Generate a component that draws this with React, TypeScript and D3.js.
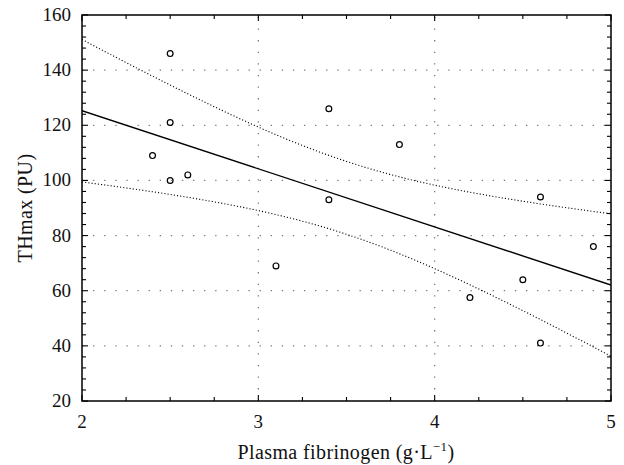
import React from "react";
import * as d3 from "d3";

const fibrinogen = [2.5, 2.5, 2.4, 2.5, 2.6, 3.4, 3.8, 3.4, 4.6, 3.1, 4.9, 4.5, 4.2, 4.6];
const thmax = [146, 121, 109, 100, 102, 126, 113, 93, 94, 69, 76, 64, 57.5, 41];
const xTicks = [2, 3, 4, 5];
const yTicks = [20, 40, 60, 80, 100, 120, 140, 160];
const xGrid = [3, 4];
const yGrid = [40, 60, 80, 100, 120, 140];
const tCrit = 2.179; // t(0.975, n-2=12)

const W = 624, H = 465;
const M = { left: 82, right: 611, top: 15, bottom: 401 };
const FONT = "'Liberation Serif', 'DejaVu Serif', serif";

export default function App() {
  const x = d3.scaleLinear().domain([2, 5]).range([M.left, M.right]);
  const y = d3.scaleLinear().domain([20, 160]).range([M.bottom, M.top]);

  const n = fibrinogen.length;
  const mx = d3.mean(fibrinogen) as number;
  const my = d3.mean(thmax) as number;
  let sxx = 0, sxy = 0;
  for (let i = 0; i < n; i++) {
    sxx += (fibrinogen[i] - mx) ** 2;
    sxy += (fibrinogen[i] - mx) * (thmax[i] - my);
  }
  const b = sxy / sxx;
  const a = my - b * mx;
  let sse = 0;
  for (let i = 0; i < n; i++) sse += (thmax[i] - (a + b * fibrinogen[i])) ** 2;
  const s = Math.sqrt(sse / (n - 2));
  const xs = d3.range(2, 5.0001, 0.02);
  const fit = (v: number) => a + b * v;
  const half = (v: number) => tCrit * s * Math.sqrt(1 / n + (v - mx) ** 2 / sxx);

  const line = d3.line<[number, number]>().x((d) => x(d[0])).y((d) => y(d[1]));
  const upper = line(xs.map((v) => [v, fit(v) + half(v)] as [number, number]));
  const lower = line(xs.map((v) => [v, fit(v) - half(v)] as [number, number]));
  const reg = line([[2, fit(2)], [5, fit(5)]]);

  const xMinor = d3.range(2, 5.0001, 0.25);
  const yMinor = d3.range(20, 160.0001, 4);
  const isMajorX = (v: number) => Math.abs(v - Math.round(v)) < 1e-6;
  const isMajorY = (v: number) => Math.abs(v / 20 - Math.round(v / 20)) < 1e-6;

  return (
    <svg width={W} height={H} style={{ position: "absolute", left: 0, top: 0, background: "#fff" }}>
      <rect x={0} y={0} width={W} height={H} fill="#fff" />
      <defs>
        <clipPath id="plot">
          <rect x={M.left} y={M.top} width={M.right - M.left} height={M.bottom - M.top} />
        </clipPath>
      </defs>
      {/* grid */}
      {xGrid.map((v) => (
        <line key={"gx" + v} x1={x(v)} x2={x(v)} y1={M.bottom} y2={M.top}
          stroke="#777" strokeWidth={1.3} strokeDasharray="1.3 10.3" />
      ))}
      {yGrid.map((v) => (
        <line key={"gy" + v} x1={M.left} x2={M.right} y1={y(v)} y2={y(v)}
          stroke="#777" strokeWidth={1.3} strokeDasharray="1.3 9.8" />
      ))}
      {/* confidence bands */}
      <g clipPath="url(#plot)">
        <path d={upper || ""} fill="none" stroke="#000" strokeWidth={1.1} strokeDasharray="1.1 2.1" />
        <path d={lower || ""} fill="none" stroke="#000" strokeWidth={1.1} strokeDasharray="1.1 2.1" />
        <path d={reg || ""} fill="none" stroke="#000" strokeWidth={1.4} />
      </g>
      {/* points */}
      {fibrinogen.map((v, i) => (
        <circle key={"p" + i} cx={x(v)} cy={y(thmax[i])} r={2.9} fill="none" stroke="#000" strokeWidth={1.2} />
      ))}
      {/* ticks */}
      {xMinor.map((v) => {
        const len = isMajorX(v) ? 6 : 4;
        return (
          <g key={"tx" + v}>
            <line x1={x(v)} x2={x(v)} y1={M.bottom} y2={M.bottom - len} stroke="#000" strokeWidth={1.1} />
            <line x1={x(v)} x2={x(v)} y1={M.top} y2={M.top + len} stroke="#000" strokeWidth={1.1} />
          </g>
        );
      })}
      {yMinor.map((v) => {
        const len = isMajorY(v) ? 6 : 4;
        return (
          <g key={"ty" + v}>
            <line x1={M.left} x2={M.left + len} y1={y(v)} y2={y(v)} stroke="#000" strokeWidth={1.1} />
            <line x1={M.right} x2={M.right - len} y1={y(v)} y2={y(v)} stroke="#000" strokeWidth={1.1} />
          </g>
        );
      })}
      {/* frame */}
      <rect x={M.left} y={M.top} width={M.right - M.left} height={M.bottom - M.top}
        fill="none" stroke="#000" strokeWidth={1.5} />
      {/* tick labels */}
      {xTicks.map((v) => (
        <text key={"lx" + v} x={x(v)} y={428} textAnchor="middle" fontFamily={FONT} fontSize={19} fill="#111">
          {v}
        </text>
      ))}
      {yTicks.map((v) => (
        <text key={"ly" + v} x={71} y={y(v) + 6} textAnchor="end" fontFamily={FONT} fontSize={19} fill="#111">
          {v}
        </text>
      ))}
      {/* axis titles */}
      <text x={346} y={459} textAnchor="middle" fontFamily={FONT} fontSize={20} letterSpacing={0.4} fill="#111">
        Plasma fibrinogen (g·L
        <tspan dy={-8} fontSize={13}>−1</tspan>
        <tspan dy={8}>)</tspan>
      </text>
      <text transform={`translate(32, ${(M.top + M.bottom) / 2}) rotate(-90)`} textAnchor="middle"
        fontFamily={FONT} fontSize={20} letterSpacing={0.4} fill="#111">
        THmax (PU)
      </text>
    </svg>
  );
}
